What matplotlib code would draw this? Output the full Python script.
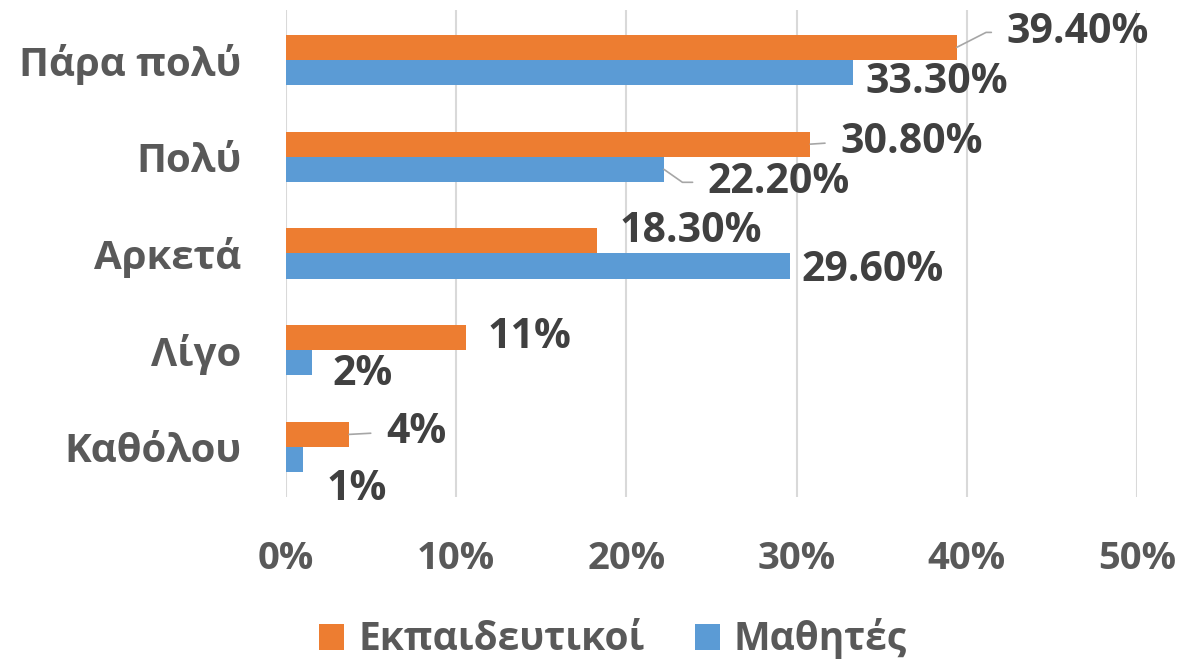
import numpy as np
import matplotlib
matplotlib.use('Agg')
import matplotlib.pyplot as plt

plt.rcParams['font.family'] = ['Open Sans', 'DejaVu Sans']
plt.rcParams['font.weight'] = 'bold'

# categories, top to bottom
categories = ['Πάρα πολύ', 'Πολύ', 'Αρκετά', 'Λίγο', 'Καθόλου']
series_names = ['Εκπαιδευτικοί', 'Μαθητές']

# values (%)
teachers = [39.4, 30.8, 18.3, 10.6, 3.7]
students = [33.3, 22.2, 29.6, 1.5, 1.0]

# data labels as printed on the chart
teachers_labels = ['39.40%', '30.80%', '18.30%', '11%', '4%']
students_labels = ['33.30%', '22.20%', '29.60%', '2%', '1%']

xticks = [0, 10, 20, 30, 40, 50]

c_orange = '#ed7d31'
c_blue = '#5b9bd5'
txt = '#404040'
tick_c = '#595959'

fig = plt.figure(figsize=(11.79, 6.64), dpi=100)
ax = fig.add_axes([0.2426, 0.2515, 0.9644 - 0.2426, 0.985 - 0.2515])

y = np.arange(len(categories))
h = 0.26
b1 = ax.barh(y - h / 2, teachers, height=h, color=c_orange, label=series_names[0], zorder=3)
b2 = ax.barh(y + h / 2, students, height=h, color=c_blue, label=series_names[1], zorder=3)

ax.set_xlim(0, 50)
ax.set_ylim(len(categories) - 0.483, -0.517)
ax.set_xticks(xticks)
ax.set_xticklabels([f'{t}%' for t in xticks], fontsize=27.5, color=tick_c, fontweight='bold')
ax.set_yticks(y)
ax.set_yticklabels(categories, fontsize=29, color=tick_c, fontweight='bold')
ax.tick_params(length=0)
ax.tick_params(axis='x', pad=31)
ax.tick_params(axis='y', pad=32)
ax.grid(axis='x', color='#d9d9d9', lw=1.5, zorder=0)
for s in ax.spines.values():
    s.set_visible(False)

# label offsets (pixels) from bar end, and leader line angle (None = no leader)
t_off = [(50, -15), (30, -2), (22, -9), (21, 0), (37, -2)]
s_off = [(13, 10), (44, 13), (12, 4), (21, 12), (23, 30)]
t_lead = [27, 8, None, None, 0]
s_lead = [None, -35, None, None, None]


def put_labels(vals, labels, ys, offs, leads):
    for v, lab, yy, (dx, dy), ang in zip(vals, labels, ys, offs, leads):
        kw = dict(xy=(v, yy), xytext=(dx, -dy), textcoords='offset pixels',
                  ha='left', va='center', fontsize=29.5, fontweight='bold', color=txt, zorder=5)
        if ang is not None:
            if ang in (0, 8):
                cs = 'arc3'
            else:
                cs = f'angle,angleA=0,angleB={ang},rad=0'
            kw['arrowprops'] = dict(arrowstyle='-', color='#a6a6a6', lw=1.2,
                                    shrinkA=9, shrinkB=0, relpos=(0, 0.5),
                                    connectionstyle=cs)
        ax.annotate(lab, **kw)


put_labels(teachers, teachers_labels, y - h / 2, t_off, t_lead)
put_labels(students, students_labels, y + h / 2, s_off, s_lead)

leg = fig.legend(handles=[b1, b2], loc='center', bbox_to_anchor=(0.52, 0.038), ncol=2,
                 frameon=False, fontsize=28, handlelength=0.65, handleheight=0.65,
                 handletextpad=0.35, columnspacing=1.3)
for t in leg.get_texts():
    t.set_color(tick_c)
    t.set_fontweight('bold')

fig.savefig('out.png', dpi=100)
